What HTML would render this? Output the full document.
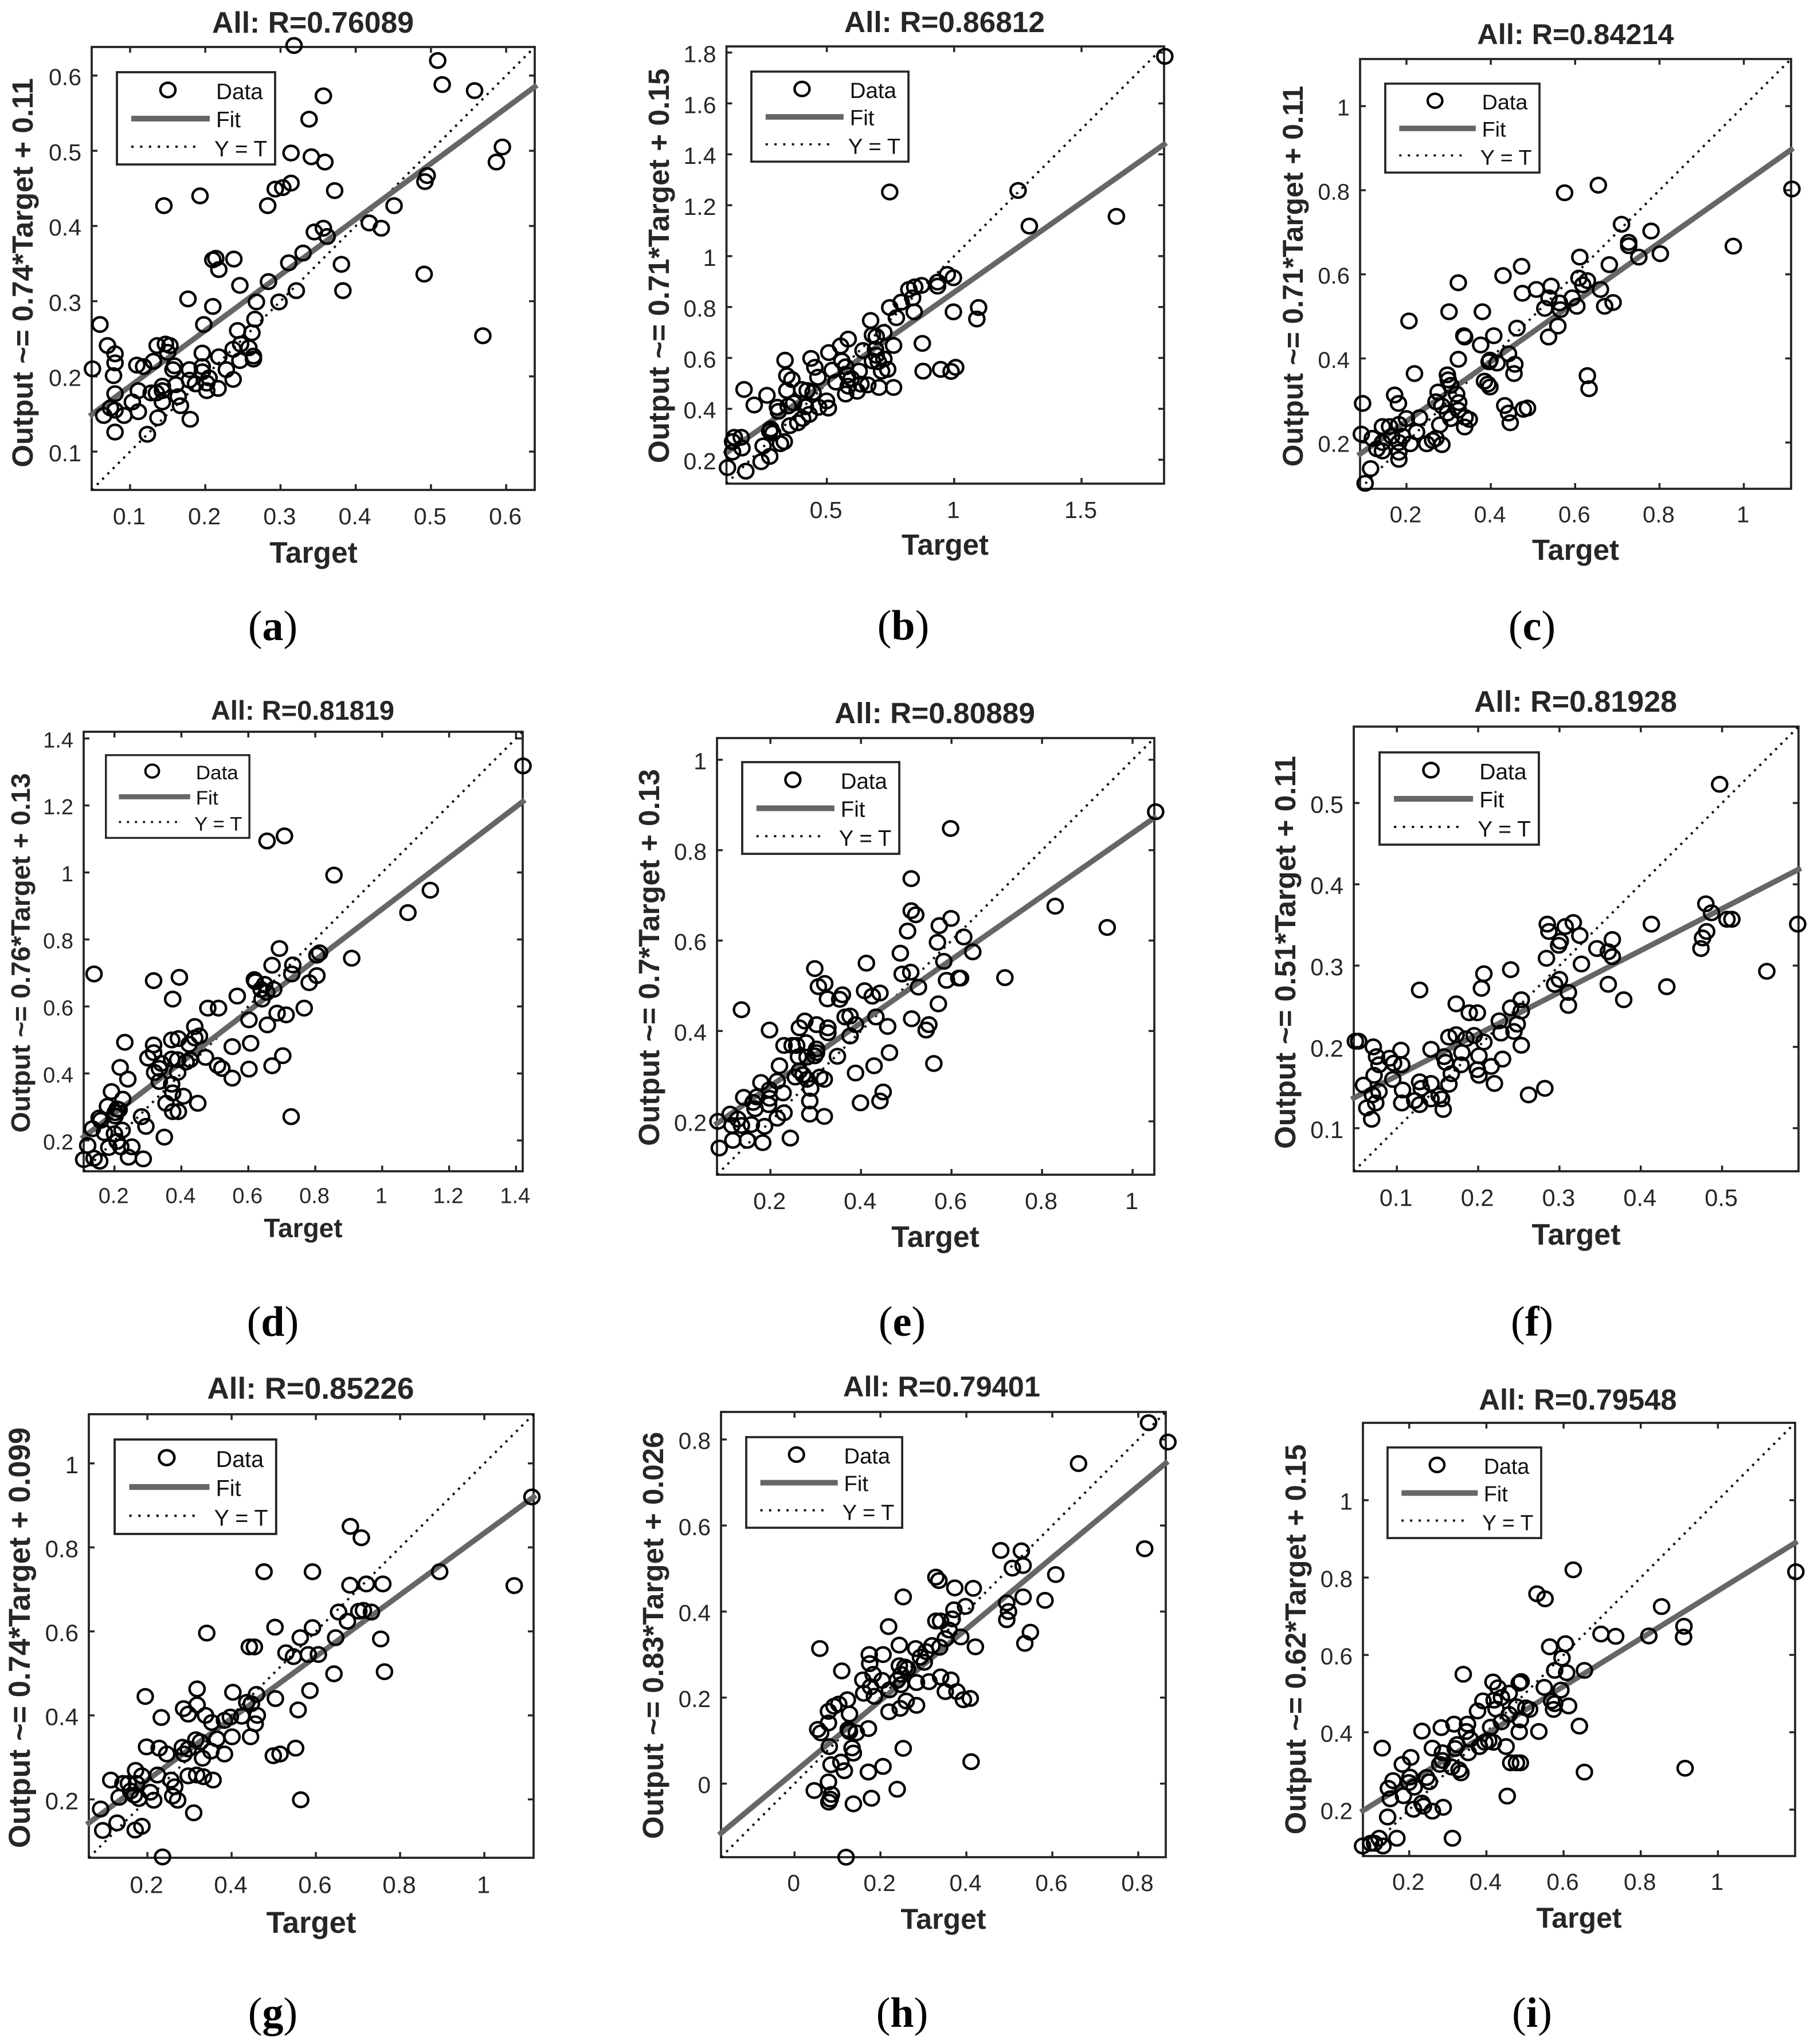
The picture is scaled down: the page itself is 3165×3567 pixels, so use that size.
<!DOCTYPE html>
<html lang="en">
<head>
<meta charset="utf-8">
<title>Regression plots</title>
<style>
html,body{margin:0;padding:0;background:#fff;}
svg{display:block;}
text{font-family:"Liberation Sans",Arial,sans-serif;fill:#262626;}
.h{font-weight:bold;text-anchor:middle;}
.cap{font-family:"Liberation Serif","Times New Roman",serif;font-size:74px;text-anchor:middle;fill:#000;}
.cap tspan{font-weight:bold;font-family:"Liberation Serif","Times New Roman",serif;}
.lt{font-size:38.7px;fill:#111;}
</style>
</head>
<body>
<svg id="figure" xmlns="http://www.w3.org/2000/svg" width="3165" height="3567" viewBox="0 0 3165 3567">
<defs>
<g id="legend-base">
<rect x="2" y="2" width="276" height="161" fill="#fff" stroke="#262626" stroke-width="3.8"/>
<ellipse cx="91" cy="33" rx="13.1" ry="12.6" fill="none" stroke="#000" stroke-width="4.4"/>
<line x1="27" y1="83" x2="164" y2="83" stroke="#666" stroke-width="10"/>
<line x1="27" y1="132" x2="150" y2="132" stroke="#111" stroke-width="4" stroke-dasharray="4 11.4"/>
</g>
</defs>
<rect width="3165" height="3567" fill="#fff"/>

<g>
<text class="h" x="546" y="57" font-size="51.7">All: R=0.76089</text>
<g id="axes-a"></g>
<text class="h" x="547" y="982" font-size="51.5">Target</text>
<text class="h" transform="translate(57,476) rotate(-90)" font-size="50.9">Output ~= 0.74*Target + 0.11</text>
<g transform="translate(202,124)">
<use href="#legend-base"/>
<text class="lt" x="175" y="49">Data</text>
<text class="lt" x="175" y="98">Fit</text>
<text class="lt" x="172" y="149">Y = T</text>
</g>
<text class="cap" x="476" y="1117">(<tspan>a</tspan>)</text>
</g>

<g>
<text class="h" x="1648" y="56" font-size="51.4">All: R=0.86812</text>
<g id="axes-b"></g>
<text class="h" x="1649" y="968" font-size="51">Target</text>
<text class="h" transform="translate(1167,464) rotate(-90)" font-size="51.4">Output ~= 0.71*Target + 0.15</text>
<g transform="translate(1309,123) scale(0.993,0.976)">
<use href="#legend-base"/>
<text class="lt" x="175" y="49">Data</text>
<text class="lt" x="175" y="98">Fit</text>
<text class="lt" x="172" y="149">Y = T</text>
</g>
<text class="cap" x="1576" y="1116">(<tspan>b</tspan>)</text>
</g>

<g>
<text class="h" x="2749" y="77" font-size="50.4">All: R=0.84214</text>
<g id="axes-c"></g>
<text class="h" x="2749" y="977" font-size="51">Target</text>
<text class="h" transform="translate(2273,482) rotate(-90)" font-size="49.8">Output ~= 0.71*Target + 0.11</text>
<g transform="translate(2415,144) scale(0.975,0.964)">
<use href="#legend-base"/>
<text class="lt" x="175" y="49">Data</text>
<text class="lt" x="175" y="98">Fit</text>
<text class="lt" x="172" y="149">Y = T</text>
</g>
<text class="cap" x="2673" y="1117">(<tspan>c</tspan>)</text>
</g>

<g>
<text class="h" x="528" y="1256" font-size="47">All: R=0.81819</text>
<g id="axes-d"></g>
<text class="h" x="529" y="2159" font-size="46">Target</text>
<text class="h" transform="translate(52,1663) rotate(-90)" font-size="46.8">Output ~= 0.76*Target + 0.13</text>
<g transform="translate(183,1316) scale(0.907,0.897)">
<use href="#legend-base"/>
<text class="lt" x="175" y="49">Data</text>
<text class="lt" x="175" y="98">Fit</text>
<text class="lt" x="172" y="149">Y = T</text>
</g>
<text class="cap" x="476" y="2331">(<tspan>d</tspan>)</text>
</g>

<g>
<text class="h" x="1631" y="1262" font-size="51.4">All: R=0.80889</text>
<g id="axes-e"></g>
<text class="h" x="1632" y="2176" font-size="51.5">Target</text>
<text class="h" transform="translate(1150,1671) rotate(-90)" font-size="51.2">Output ~= 0.7*Target + 0.13</text>
<g transform="translate(1293,1328) scale(0.993,0.994)">
<use href="#legend-base"/>
<text class="lt" x="175" y="49">Data</text>
<text class="lt" x="175" y="98">Fit</text>
<text class="lt" x="172" y="149">Y = T</text>
</g>
<text class="cap" x="1574" y="2331">(<tspan>e</tspan>)</text>
</g>

<g>
<text class="h" x="2749" y="1242" font-size="52">All: R=0.81928</text>
<g id="axes-f"></g>
<text class="h" x="2750" y="2172" font-size="52">Target</text>
<text class="h" transform="translate(2260,1662) rotate(-90)" font-size="51.4">Output ~= 0.51*Target + 0.11</text>
<g transform="translate(2405,1311) scale(1.007,1)">
<use href="#legend-base"/>
<text class="lt" x="175" y="49">Data</text>
<text class="lt" x="175" y="98">Fit</text>
<text class="lt" x="172" y="149">Y = T</text>
</g>
<text class="cap" x="2673" y="2331">(<tspan>f</tspan>)</text>
</g>

<g>
<text class="h" x="542" y="2441" font-size="53">All: R=0.85226</text>
<g id="axes-g"></g>
<text class="h" x="543" y="3373" font-size="52.6">Target</text>
<text class="h" transform="translate(52,2858) rotate(-90)" font-size="52.6">Output ~= 0.74*Target + 0.099</text>
<g transform="translate(198,2510) scale(1.021,1.024)">
<use href="#legend-base"/>
<text class="lt" x="175" y="49">Data</text>
<text class="lt" x="175" y="98">Fit</text>
<text class="lt" x="172" y="149">Y = T</text>
</g>
<text class="cap" x="476" y="3537">(<tspan>g</tspan>)</text>
</g>

<g>
<text class="h" x="1643" y="2437" font-size="50.5">All: R=0.79401</text>
<g id="axes-h"></g>
<text class="h" x="1646" y="3366" font-size="50">Target</text>
<text class="h" transform="translate(1157,2854) rotate(-90)" font-size="50.9">Output ~= 0.83*Target + 0.026</text>
<g transform="translate(1300,2506) scale(0.986,0.982)">
<use href="#legend-base"/>
<text class="lt" x="175" y="49">Data</text>
<text class="lt" x="175" y="98">Fit</text>
<text class="lt" x="172" y="149">Y = T</text>
</g>
<text class="cap" x="1574" y="3537">(<tspan>h</tspan>)</text>
</g>

<g>
<text class="h" x="2753" y="2460" font-size="50.7">All: R=0.79548</text>
<g id="axes-i"></g>
<text class="h" x="2755" y="3364" font-size="50">Target</text>
<text class="h" transform="translate(2278,2861) rotate(-90)" font-size="50.8">Output ~= 0.62*Target + 0.15</text>
<g transform="translate(2419,2524) scale(0.971,0.982)">
<use href="#legend-base"/>
<text class="lt" x="175" y="49">Data</text>
<text class="lt" x="175" y="98">Fit</text>
<text class="lt" x="172" y="149">Y = T</text>
</g>
<text class="cap" x="2673" y="3537">(<tspan>i</tspan>)</text>
</g>
</svg>

<script>
// Panel a
const targetA = [.318,.509,.515,.558,.357,.338,.595,.314,.341,.359,.587,.495,.492,.314,.303,.293,.372,.193,.145,.283,.451,.418,.434,.357,.345,.362,.330,.311,.381,.210,.214,.238,.218,.246,.284,.491,.321,.383,.177,.268,.298,.210,.266,.198,.060,.262,.243,.569,.070,.080,.080,.078,.050,.136,.147,.153,.150,.247,.237,.258,.196,.218,.264,.264,.246,.131,.118,.109,.159,.157,.196,.196,.179,.228,.205,.237,.179,.187,.202,.217,.202,.143,.161,.111,.128,.135,.143,.080,.164,.143,.103,.074,.080,.167,.111,.092,.065,.137,.180,.080,.123];
const outputA = [.640,.620,.588,.580,.573,.542,.505,.497,.492,.485,.485,.467,.459,.457,.451,.449,.447,.440,.427,.427,.427,.404,.397,.397,.392,.386,.364,.351,.349,.355,.357,.356,.342,.321,.326,.336,.314,.314,.303,.299,.299,.293,.276,.269,.269,.258,.261,.254,.241,.230,.218,.201,.210,.241,.243,.241,.232,.243,.236,.238,.231,.226,.227,.223,.221,.220,.213,.215,.214,.209,.213,.206,.209,.209,.198,.196,.195,.190,.191,.184,.181,.187,.189,.181,.178,.178,.181,.177,.173,.166,.166,.158,.155,.161,.153,.148,.148,.145,.143,.126,.123];
const limitsA = [.049,.638];
const xTicksA = [.1,.2,.3,.4,.5,.6];
const yTicksA = [.1,.2,.3,.4,.5,.6];

// Panel b
const targetB = [1.827,.747,1.251,1.295,1.637,.973,.997,.935,.935,.872,.845,.822,.837,.792,.747,1.096,1.089,.997,.843,.773,.672,.724,.679,.694,.875,.584,.554,.762,.642,.691,.508,.694,.336,.438,.724,.559,.679,.702,.453,.574,.739,.521,.627,.715,.878,.947,1.006,.988,.343,.363,.465,.581,.596,.536,.634,.661,.584,.705,.762,.175,.343,.401,.423,.446,.619,.574,.265,.499,.215,.370,.348,.306,.416,.310,.468,.506,.431,.405,.386,.355,.280,.276,.288,.137,.164,.130,.333,.318,.167,.130,.250,.276,.242,.110,.182];
const outputB = [1.785,1.252,1.258,1.118,1.156,.928,.915,.898,.882,.885,.879,.869,.836,.819,.798,.798,.753,.781,.781,.758,.747,.700,.690,.684,.657,.674,.647,.649,.629,.634,.621,.610,.591,.598,.596,.588,.588,.585,.563,.565,.555,.552,.548,.548,.548,.555,.563,.547,.530,.515,.524,.532,.519,.505,.497,.494,.489,.484,.484,.476,.472,.476,.472,.464,.469,.458,.453,.431,.415,.423,.411,.406,.408,.390,.406,.403,.378,.362,.345,.334,.321,.312,.304,.288,.288,.271,.271,.263,.246,.230,.254,.213,.192,.169,.155];
const limitsB = [.106,1.824];
const xTicksB = [.5,1,1.5];
const yTicksB = [.2,.4,.6,.8,1,1.2,1.4,1.6,1.8];

// Panel c
const targetC = [1.114,.655,.575,.710,.780,.727,.727,.975,.802,.751,.611,.681,.473,.429,.323,.609,.629,.618,.660,.508,.543,.475,.538,.593,.563,.690,.670,.604,.528,.565,.301,.380,.206,.462,.559,.336,.407,.338,.537,.376,.442,.323,.398,.396,.415,.457,.219,.455,.297,.299,.629,.385,.393,.398,.305,.633,.172,.319,.275,.181,.096,.270,.324,.433,.284,.487,.477,.442,.297,.323,.305,.231,.200,.339,.349,.446,.279,.338,.182,.143,.160,.224,.093,.119,.165,.191,.143,.182,.209,.270,.262,.248,.284,.130,.143,.182,.182,.115,.102];
const outputC = [.803,.812,.794,.719,.703,.676,.668,.667,.649,.641,.641,.623,.619,.597,.580,.591,.585,.575,.564,.564,.572,.555,.544,.544,.532,.533,.524,.524,.519,.516,.511,.511,.489,.472,.477,.454,.454,.451,.451,.432,.411,.398,.396,.392,.389,.386,.364,.364,.361,.349,.359,.346,.339,.332,.336,.328,.313,.315,.320,.293,.293,.297,.295,.288,.287,.282,.279,.270,.270,.277,.257,.259,.257,.260,.255,.247,.242,.237,.243,.238,.238,.225,.220,.210,.215,.215,.200,.200,.197,.210,.205,.197,.195,.185,.180,.177,.160,.138,.103];
const limitsC = [.09,1.112];
const xTicksC = [.2,.4,.6,.8,1];
const yTicksC = [.2,.4,.6,.8,1];

// Panel d
const targetD = [1.421,.708,.656,.856,1.144,1.077,.909,.693,.813,.805,.671,.733,.730,.805,.782,.139,.317,.394,.618,.621,.649,.638,.676,.655,.641,.374,.567,.479,.511,.767,.686,.713,.602,.440,.657,.391,.371,.454,.440,.231,.607,.317,.423,.552,.317,.703,.300,.472,.371,.389,.426,.414,.340,.508,.521,.217,.334,.671,.602,.320,.389,.552,.240,.334,.371,.191,.374,.406,.225,.449,.354,.179,.208,.214,.202,.202,.374,.391,.281,.728,.154,.159,.134,.294,.223,.170,.200,.349,.208,.120,.183,.219,.252,.108,.139,.156,.242,.286];
const outputD = [1.318,1.109,1.094,.992,.947,.880,.744,.773,.760,.753,.723,.724,.697,.692,.671,.697,.677,.687,.680,.674,.666,.651,.651,.642,.622,.622,.631,.595,.595,.595,.580,.575,.560,.540,.545,.504,.500,.512,.506,.493,.490,.485,.487,.480,.462,.453,.446,.448,.443,.441,.441,.434,.430,.424,.415,.418,.415,.423,.413,.403,.403,.386,.383,.376,.368,.346,.342,.332,.323,.311,.311,.302,.294,.292,.283,.273,.286,.286,.271,.271,.267,.260,.235,.242,.231,.223,.220,.210,.197,.185,.179,.181,.181,.143,.147,.138,.150,.145];
const limitsD = [.108,1.42];
const xTicksD = [.2,.4,.6,.8,1,1.2,1.4];
const yTicksD = [.2,.4,.6,.8,1,1.2,1.4];

// Panel e
const targetE = [1.051,.598,.511,.829,.511,.521,.599,.503,.573,.944,.569,.627,.487,.647,.583,.412,.298,.491,.510,.589,.616,.620,.718,.320,.306,.527,.408,.442,.425,.359,.326,.353,.571,.136,.365,.376,.433,.512,.302,.388,.276,.264,.327,.459,.550,.544,.198,.327,.376,.279,.230,.248,.258,.302,.463,.302,.348,.262,.281,.298,.561,.220,.429,.264,.388,.272,.309,.319,.255,.281,.215,.179,.289,.198,.228,.449,.170,.141,.198,.162,.287,.442,.399,.166,.196,.230,.287,.319,.111,.215,.084,.128,.115,.136,.158,.187,.149,.117,.183,.244,.087];
const outputE = [.885,.848,.737,.676,.666,.657,.649,.621,.633,.629,.596,.608,.572,.575,.554,.550,.538,.526,.530,.512,.517,.517,.518,.505,.498,.497,.489,.484,.477,.480,.471,.470,.460,.447,.431,.433,.431,.427,.414,.414,.422,.407,.407,.410,.414,.402,.402,.396,.389,.374,.368,.368,.368,.360,.352,.352,.344,.343,.342,.345,.328,.323,.323,.312,.307,.303,.298,.293,.298,.293,.289,.286,.273,.270,.263,.265,.254,.253,.251,.242,.245,.245,.241,.228,.237,.219,.216,.211,.216,.207,.200,.205,.191,.191,.193,.189,.158,.158,.153,.163,.141];
const limitsE = [.082,1.048];
const xTicksE = [.2,.4,.6,.8,1];
const yTicksE = [.2,.4,.6,.8,1];

// Panel f
const targetF = [.497,.593,.413,.480,.487,.506,.512,.481,.476,.474,.285,.287,.307,.317,.325,.301,.299,.365,.346,.360,.365,.284,.327,.555,.207,.240,.300,.294,.360,.432,.128,.204,.311,.379,.253,.173,.311,.240,.189,.199,.253,.226,.248,.228,.244,.173,.164,.195,.185,.207,.049,.053,.071,.253,.105,.142,.075,.180,.201,.230,.158,.091,.096,.160,.078,.106,.179,.216,.199,.167,.201,.072,.095,.128,.059,.142,.220,.164,.130,.107,.078,.070,.262,.282,.152,.155,.142,.122,.074,.106,.128,.063,.157,.069];
const outputF = [.523,.351,.351,.376,.365,.357,.357,.342,.334,.321,.351,.342,.348,.353,.337,.330,.325,.332,.321,.317,.311,.309,.302,.293,.290,.295,.283,.277,.277,.274,.270,.272,.267,.258,.258,.253,.251,.248,.242,.242,.244,.232,.228,.217,.219,.215,.212,.214,.210,.206,.207,.207,.200,.202,.196,.197,.188,.193,.189,.185,.188,.186,.180,.181,.178,.178,.178,.176,.172,.167,.165,.165,.160,.157,.153,.155,.155,.154,.149,.147,.145,.141,.141,.149,.140,.136,.136,.134,.131,.131,.129,.125,.123,.111];
const limitsF = [.047,.594];
const xTicksF = [.1,.2,.3,.4,.5];
const yTicksF = [.1,.2,.3,.4,.5];

// Panel g
const targetG = [1.113,.682,.708,.477,.592,.894,.681,.720,.759,1.071,.654,.675,.702,.713,.732,.503,.592,.563,.341,.754,.647,.442,.454,.529,.547,.582,.606,.643,.763,.318,.403,.586,.195,.459,.504,.436,.447,.318,.286,.558,.297,.461,.338,.233,.397,.383,.424,.353,.456,.401,.445,.315,.365,.326,.198,.228,.552,.283,.297,.351,.246,.287,.383,.499,.515,.331,.172,.297,.317,.333,.356,.224,.187,.113,.142,.155,.174,.256,.265,.160,.207,.133,.169,.260,.180,.215,.272,.564,.089,.310,.128,.187,.171,.094,.236];
const outputG = [.920,.850,.823,.742,.742,.742,.710,.713,.713,.709,.646,.624,.648,.650,.646,.610,.609,.585,.596,.582,.585,.563,.563,.549,.540,.545,.545,.499,.504,.463,.455,.459,.445,.450,.440,.431,.428,.425,.416,.413,.403,.400,.400,.395,.396,.388,.398,.383,.380,.349,.349,.342,.344,.337,.325,.322,.322,.324,.320,.315,.308,.308,.308,.304,.308,.298,.269,.256,.258,.254,.246,.258,.256,.246,.238,.238,.238,.246,.230,.220,.217,.205,.210,.208,.202,.198,.198,.199,.177,.168,.144,.136,.127,.126,.063];
const limitsG = [.061,1.117];
const xTicksG = [.2,.4,.6,.8,1];
const yTicksG = [.2,.4,.6,.8,1];

// Panel h
const targetH = [.824,.869,.661,.815,.480,.528,.532,.507,.608,.329,.336,.373,.416,.253,.532,.583,.494,.398,.371,.498,.494,.329,.340,.367,.219,.360,.549,.351,.387,.536,.059,.244,.282,.320,.338,.421,.306,.206,.174,.293,.302,.175,.244,.257,.263,.110,.183,.248,.340,.364,.159,.204,.284,.313,.239,.177,.248,.221,.351,.378,.161,.186,.393,.409,.123,.260,.284,.103,.092,.079,.220,.246,.128,.079,.054,.172,.125,.061,.128,.144,.081,.134,.253,.137,.411,.085,.108,.206,.116,.172,.079,.046,.239,.086,.083,.179,.080,.137,.120];
const outputH = [.839,.794,.744,.546,.542,.541,.507,.501,.486,.480,.472,.455,.454,.434,.434,.426,.420,.412,.404,.400,.381,.378,.378,.383,.365,.357,.352,.337,.341,.326,.314,.322,.314,.321,.317,.318,.307,.300,.300,.294,.282,.279,.274,.271,.267,.262,.254,.254,.248,.241,.241,.240,.235,.237,.240,.225,.230,.218,.214,.214,.210,.203,.195,.198,.195,.192,.182,.185,.180,.168,.167,.175,.162,.141,.126,.128,.126,.118,.121,.118,.086,.083,.082,.071,.051,.044,.050,.040,.030,.027,.004,-.016,-.013,-.025,-.036,-.034,-.043,-.047,-.171];
const limitsH = [-.171,.864];
const xTicksH = [0,.2,.4,.6,.8];
const yTicksH = [0,.2,.4,.6,.8];

// Panel i
const targetI = [1.202,.625,.531,.552,.854,.912,.911,.821,.697,.735,.605,.564,.596,.577,.608,.654,.340,.490,.485,.417,.430,.550,.593,.459,.391,.439,.420,.569,.577,.613,.574,.502,.512,.478,.377,.425,.459,.488,.439,.641,.411,.316,.351,.233,.283,.536,.485,.348,.358,.406,.418,.396,.382,.324,.130,.260,.451,.319,.353,.286,.204,.463,.478,.488,.286,.182,.279,.310,.329,.334,.654,.915,.202,.158,.245,.252,.199,.146,.213,.185,.151,.454,.233,.237,.211,.288,.260,.144,.168,.312,.122,.100,.110,.079,.132];
const outputI = [.815,.820,.758,.745,.725,.674,.646,.649,.654,.648,.629,.621,.592,.560,.554,.560,.550,.531,.527,.530,.515,.516,.509,.501,.481,.490,.483,.481,.474,.468,.459,.463,.459,.466,.455,.460,.446,.432,.427,.416,.413,.421,.421,.403,.412,.402,.401,.402,.382,.378,.374,.374,.363,.368,.359,.359,.363,.358,.347,.347,.335,.321,.321,.321,.327,.317,.317,.310,.303,.295,.297,.307,.284,.275,.283,.272,.270,.255,.258,.236,.228,.235,.217,.209,.201,.206,.196,.181,.126,.126,.126,.113,.113,.106,.106];
const limitsI = [.08,1.2];
const xTicksI = [.2,.4,.6,.8,1];
const yTicksI = [.2,.4,.6,.8,1];

// Fitted-line coefficients, panels a to i
const fitSlopes = [.74,.705,.708,.763,.70,.514,.735,.831,.618];
const fitIntercepts = [.113,.153,.109,.128,.138,.113,.099,.027,.148];

const panelFrames = [
  {id:'a',left:160,right:933,top:82,bottom:855,tick:41},
  {id:'b',left:1267.5,right:2031,top:81,bottom:844,tick:41},
  {id:'c',left:2373,right:3125,top:103,bottom:853,tick:40},
  {id:'d',left:146,right:912,top:1277,bottom:2044,tick:38},
  {id:'e',left:1251,right:2014,top:1288,bottom:2050,tick:41},
  {id:'f',left:2362,right:3138,top:1268,bottom:2044,tick:41.5},
  {id:'g',left:155,right:931,top:2468,bottom:3242,tick:42},
  {id:'h',left:1258,right:2034,top:2464,bottom:3241,tick:40.5},
  {id:'i',left:2378,right:3132,top:2483,bottom:3239,tick:40.5}
];
const panelTargets = [targetA,targetB,targetC,targetD,targetE,targetF,targetG,targetH,targetI];
const panelOutputs = [outputA,outputB,outputC,outputD,outputE,outputF,outputG,outputH,outputI];
const panelLimits = [limitsA,limitsB,limitsC,limitsD,limitsE,limitsF,limitsG,limitsH,limitsI];
const panelXTicks = [xTicksA,xTicksB,xTicksC,xTicksD,xTicksE,xTicksF,xTicksG,xTicksH,xTicksI];
const panelYTicks = [yTicksA,yTicksB,yTicksC,yTicksD,yTicksE,yTicksF,yTicksG,yTicksH,yTicksI];

const NS = 'http://www.w3.org/2000/svg';
function mk(tag, attrs, parent) {
  const el = document.createElementNS(NS, tag);
  for (const k in attrs) el.setAttribute(k, attrs[k]);
  parent.appendChild(el);
  return el;
}

panelFrames.forEach(function (f, idx) {
  const g = document.getElementById('axes-' + f.id);
  const lo = panelLimits[idx][0];
  const hi = panelLimits[idx][1];
  const xAt = function (v) { return f.left + (v - lo) / (hi - lo) * (f.right - f.left); };
  const yAt = function (v) { return f.bottom - (v - lo) / (hi - lo) * (f.bottom - f.top); };
  const ink = '#262626';

  const frame = mk('rect', {x:f.left, y:f.top, width:f.right-f.left, height:f.bottom-f.top, fill:'#fff', stroke:ink, 'stroke-width':3.8}, g);
  
  

  panelXTicks[idx].forEach(function (v) {
    const x = xAt(v);
    const t1 = mk('line', {x1:x, x2:x, y1:f.bottom, y2:f.bottom-10, stroke:ink, 'stroke-width':3.5}, g);
    
    
    const t2 = mk('line', {x1:x, x2:x, y1:f.top, y2:f.top+10, stroke:ink, 'stroke-width':3.5}, g);
    
    
    const lab = mk('text', {x:x-1.5, y:f.bottom+f.tick*1.46, 'font-size':f.tick, 'text-anchor':'middle'}, g);
    
    
    lab.textContent = String(v);
  });

  panelYTicks[idx].forEach(function (v) {
    const y = yAt(v);
    const t1 = mk('line', {x1:f.left, x2:f.left+10, y1:y, y2:y, stroke:ink, 'stroke-width':3.5}, g);
    
    
    const t2 = mk('line', {x1:f.right, x2:f.right-10, y1:y, y2:y, stroke:ink, 'stroke-width':3.5}, g);
    
    
    const lab = mk('text', {x:f.left-18, y:y+f.tick*0.41, 'font-size':f.tick, 'text-anchor':'end'}, g);
    
    
    lab.textContent = String(v);
  });

  const identity = mk('line', {x1:xAt(lo), y1:yAt(lo), x2:xAt(hi), y2:yAt(hi), stroke:'#111', 'stroke-width':4, 'stroke-dasharray':'4 9'}, g);
  
  

  const fit = mk('line', {x1:xAt(lo), y1:yAt(fitSlopes[idx]*lo+fitIntercepts[idx]), x2:xAt(hi), y2:yAt(fitSlopes[idx]*hi+fitIntercepts[idx]), stroke:'#666', 'stroke-width':9.5, 'stroke-linecap':'square'}, g);
  
  

  const tx = panelTargets[idx];
  const ty = panelOutputs[idx];
  const n = Math.min(tx.length, ty.length);
  for (let i = 0; i < n; i++) {
    const pt = mk('ellipse', {cx:xAt(tx[i]), cy:yAt(ty[i]), rx:13.1, ry:12.6, fill:'none', stroke:'#000', 'stroke-width':4.4}, g);
    
    
  }
});
</script>
</body>
</html>
